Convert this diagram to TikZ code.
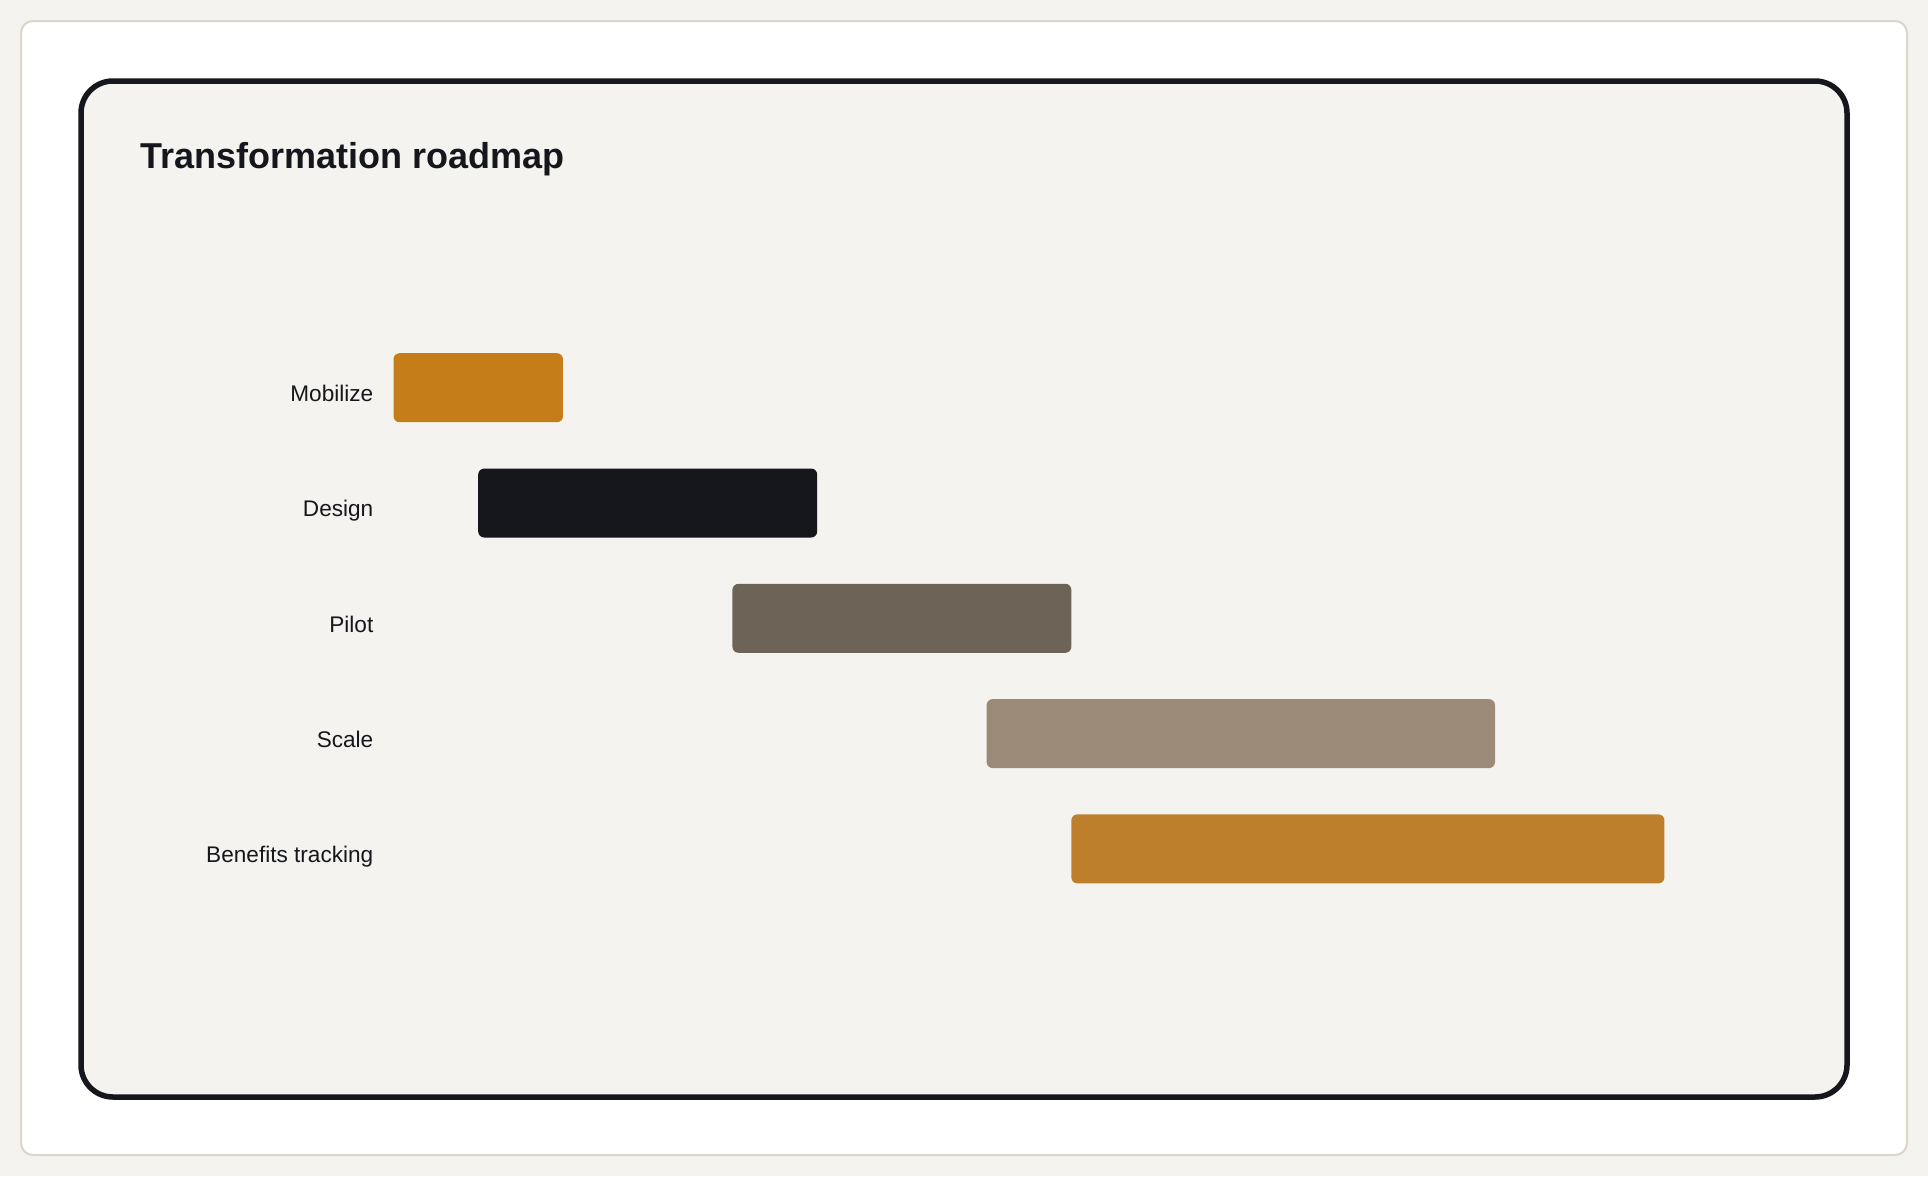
\documentclass[tikz,border=0pt]{standalone}
\usepackage{fontspec}
\setmainfont{Liberation Sans}
\definecolor{paper}{HTML}{F5F3EF}
\definecolor{cardline}{HTML}{DDD5CA}
\definecolor{ink}{HTML}{16171C}
\definecolor{mobilize}{HTML}{C47D18}
\definecolor{design}{HTML}{16171C}
\definecolor{pilot}{HTML}{6D6457}
\definecolor{scale}{HTML}{9B8A78}
\definecolor{benefits}{HTML}{BD7F2B}
\begin{document}
\begin{tikzpicture}[x=1pt, y=-1pt,
        phase/.style={anchor=north west, inner sep=0pt, minimum height=69pt, rounded corners=6pt},
        phaselabel/.style={anchor=base east, inner sep=0pt, text=ink, font=\fontsize{22.6}{26}\selectfont}]
        \fill[paper] (0,0) rectangle (1928,1176);
        \useasboundingbox (0,0) rectangle (1928,1176);
        \draw[cardline, fill=white, line width=2pt, rounded corners=12pt] (21,21) rectangle (1907,1155);
        \draw[ink, fill=paper, line width=5.5pt, rounded corners=32pt] (81,81) rectangle (1847,1097);
        \node[anchor=base west, inner sep=0pt, text=ink, font=\fontsize{36}{42}\selectfont\bfseries] (title) at (140,168) {Transformation roadmap};

        \foreach \i/\start/\len/\name/\col in {0/0/2/Mobilize/mobilize, 1/1/4/Design/design, 2/4/4/Pilot/pilot, 3/7/6/Scale/scale, 4/8/7/Benefits tracking/benefits} {
            \node[phase, fill=\col, minimum width=\len*84.73pt] (bar\i) at ({393.3+\start*84.73}, {353+\i*115.3}) {};
            \node[phaselabel] (label\i) at (373.5, {401.5+\i*115.3}) {\name};
        }
    \end{tikzpicture}
\end{document}
